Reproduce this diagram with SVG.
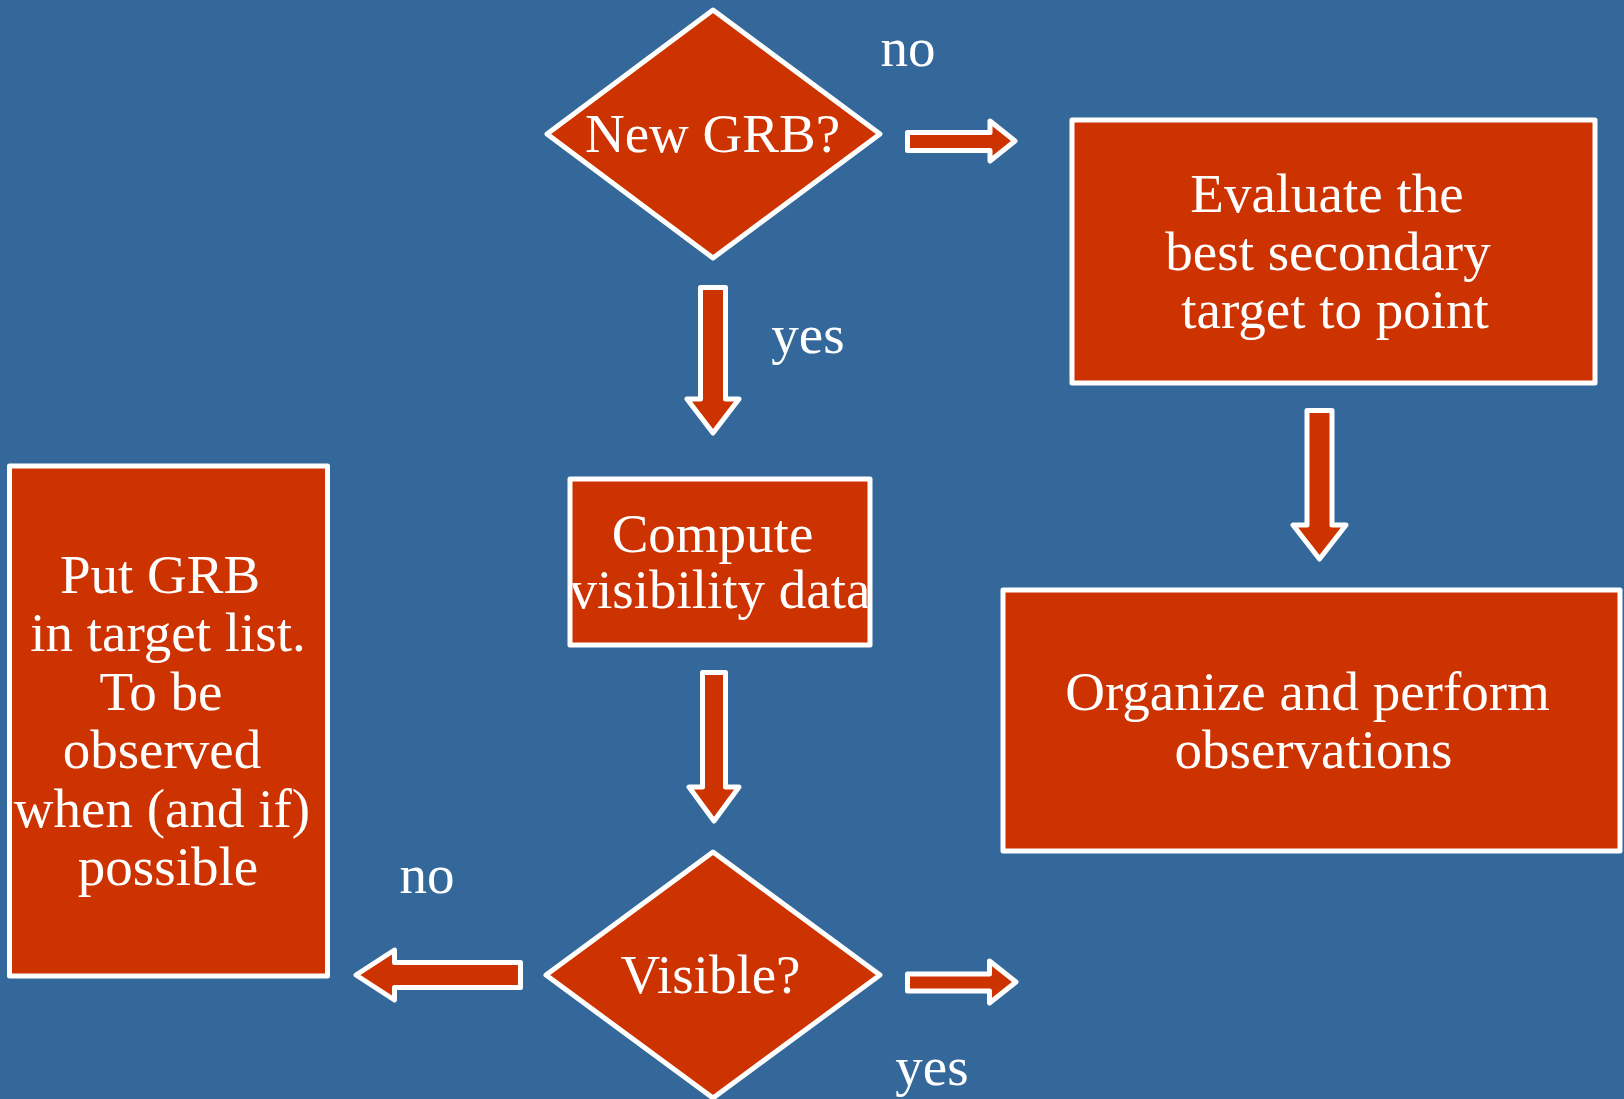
<svg xmlns="http://www.w3.org/2000/svg" width="1624" height="1099" viewBox="0 0 1624 1099">
  <style>
    .shape { fill: #CC3300; stroke: #FFFFFF; stroke-width: 5; stroke-linejoin: round; }
    .label { fill: #FFFFFF; font-family: "Liberation Serif", "Times New Roman", serif; font-size: 55px; text-anchor: middle; }
  </style>
  <defs>
    <clipPath id="computeClip">
      <rect x="572.5" y="481.5" width="295" height="161"/>
    </clipPath>
  </defs>

  <!-- background -->
  <rect x="0" y="0" width="1624" height="1099" fill="#34689A"/>

  <!-- decision: new burst? -->
  <g id="new-grb">
    <polygon class="shape" points="713,10 880,134 713,258 547,134"/>
    <text class="label" x="712.5" y="152">New GRB?</text>
  </g>

  <!-- secondary target evaluation -->
  <g id="evaluate">
    <rect class="shape" x="1072" y="120" width="523" height="263"/>
    <text class="label" x="1327" y="212">Evaluate the</text>
    <text class="label" x="1328" y="270">best secondary</text>
    <text class="label" x="1335" y="328">target to point</text>
  </g>

  <!-- visibility computation -->
  <g id="compute">
    <rect x="570" y="479" width="300" height="166" fill="#CC3300"/>
    <g clip-path="url(#computeClip)">
      <text class="label" x="712.5" y="552">Compute</text>
      <text class="label" x="720" y="608">visibility data</text>
    </g>
    <rect x="570" y="479" width="300" height="166" fill="none" stroke="#FFFFFF" stroke-width="5" stroke-linejoin="round"/>
  </g>

  <!-- decision: visible? -->
  <g id="visible">
    <polygon class="shape" points="713,852 880,975 713,1098 546,975"/>
    <text class="label" x="710.5" y="993">Visible?</text>
  </g>

  <!-- deferred target list -->
  <g id="target-list">
    <rect class="shape" x="9.5" y="466" width="318" height="510"/>
    <text class="label" x="160" y="593">Put GRB</text>
    <text class="label" x="168" y="651">in target list.</text>
    <text class="label" x="161" y="710">To be</text>
    <text class="label" x="162" y="768">observed</text>
    <text class="label" x="162" y="827">when (and if)</text>
    <text class="label" x="168" y="885">possible</text>
  </g>

  <!-- observation -->
  <g id="organize">
    <rect class="shape" x="1003" y="590" width="617" height="261"/>
    <text class="label" x="1307.5" y="710">Organize and perform</text>
    <text class="label" x="1313.5" y="768">observations</text>
  </g>

  <!-- block-arrow connectors and branch labels -->
  <g id="connectors">
    <polygon class="shape" points="907.5,132.5 990,132.5 990,121 1015,141 990,161 990,150.5 907.5,150.5"/>
    <polygon class="shape" points="700.5,287.5 725.5,287.5 725.5,399 739,399 713,433 687,399 700.5,399"/>
    <polygon class="shape" points="702.5,672.5 725.5,672.5 725.5,787 739,787 714,821 689,787 702.5,787"/>
    <polygon class="shape" points="1307,410.5 1332,410.5 1332,525 1346,525 1319.5,559 1293,525 1307,525"/>
    <polygon class="shape" points="520.5,962.5 394.5,962.5 394.5,950 356,975 394.5,1000 394.5,987.5 520.5,987.5"/>
    <polygon class="shape" points="907.5,974 989.5,974 989.5,961 1016,982 989.5,1003 989.5,991 907.5,991"/>

    <text class="label" x="908" y="66">no</text>
    <text class="label" x="808" y="353">yes</text>
    <text class="label" x="427" y="893">no</text>
    <text class="label" x="932" y="1085">yes</text>
  </g>
</svg>
